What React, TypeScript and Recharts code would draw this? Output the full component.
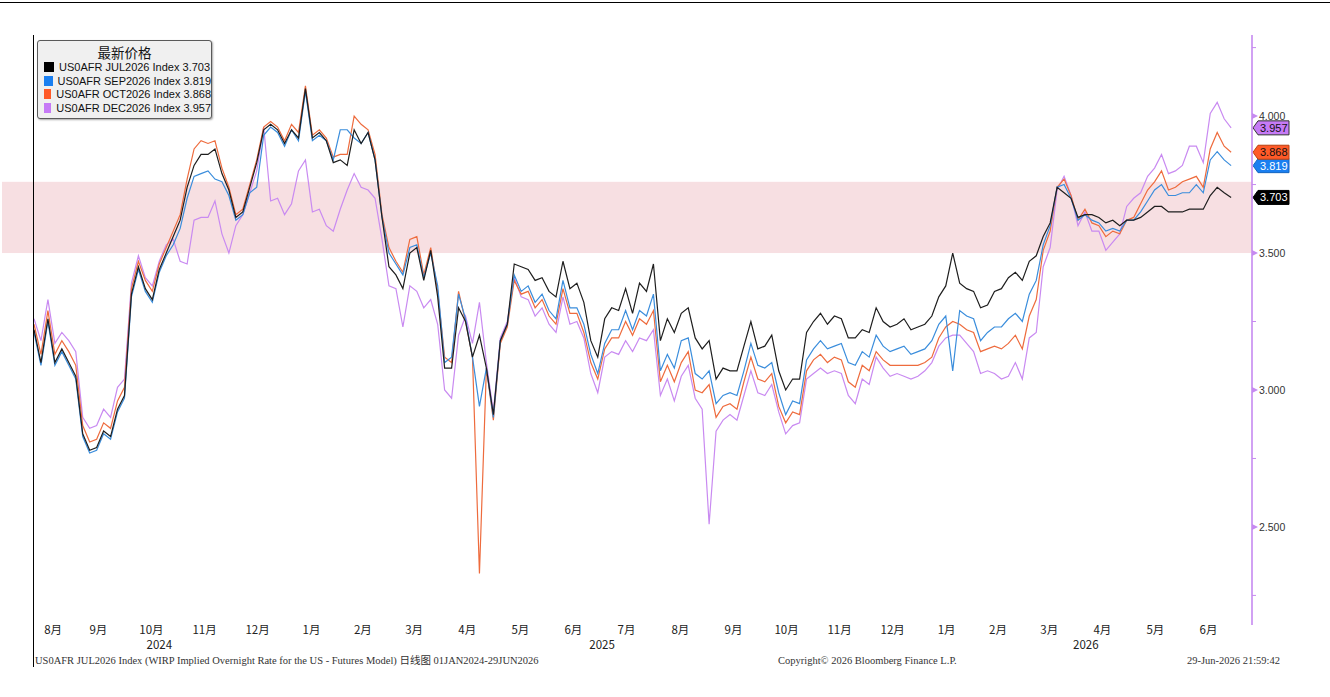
import { LineChart, Line, XAxis, YAxis, ReferenceArea, ReferenceLine, Legend } from 'recharts';

// one sample every 4 calendar days, first sample 10 Aug 2024, last 29 Jun 2026
const START = Date.UTC(2024, 7, 10);
const DAY = 86400000;
const STEP_DAYS = 4;
const X_MIN = Date.UTC(2024, 7, 10);
const X_MAX = Date.UTC(2026, 6, 11);

const jul2026 = [
  3.22, 3.10, 3.26, 3.10, 3.15, 3.10, 3.05, 2.84, 2.78, 2.79,
  2.85, 2.83, 2.93, 2.98, 3.35, 3.45, 3.37, 3.33, 3.44, 3.50,
  3.56, 3.62, 3.74, 3.82, 3.86, 3.86, 3.88, 3.79, 3.73, 3.63,
  3.65, 3.74, 3.83, 3.95, 3.97, 3.95, 3.90, 3.95, 3.92, 4.10,
  3.92, 3.94, 3.91, 3.83, 3.84, 3.82, 3.95, 3.90, 3.94, 3.84,
  3.63, 3.45, 3.42, 3.37, 3.50, 3.52, 3.40, 3.51, 3.34, 3.08,
  3.08, 3.30, 3.25, 3.12, 3.20, 3.08, 2.91, 3.18, 3.24, 3.46,
  3.45, 3.44, 3.40, 3.41, 3.36, 3.34, 3.47, 3.37, 3.39, 3.32,
  3.18, 3.12, 3.26, 3.30, 3.29, 3.37, 3.28, 3.39, 3.36, 3.46,
  3.18, 3.26, 3.21, 3.28, 3.30, 3.19, 3.15, 3.18, 3.04, 3.08,
  3.07, 3.07, 3.16, 3.25, 3.15, 3.16, 3.20, 3.07, 3.00, 3.04,
  3.04, 3.21, 3.25, 3.28, 3.24, 3.27, 3.26, 3.19, 3.19, 3.22,
  3.21, 3.30, 3.25, 3.23, 3.24, 3.26, 3.22, 3.23, 3.24, 3.27,
  3.34, 3.38, 3.50, 3.39, 3.37, 3.36, 3.30, 3.31, 3.36, 3.37,
  3.41, 3.43, 3.40, 3.47, 3.49, 3.56, 3.61, 3.74, 3.72, 3.70,
  3.63, 3.64, 3.64, 3.63, 3.61, 3.62, 3.60, 3.62, 3.62, 3.63,
  3.65, 3.67, 3.67, 3.65, 3.65, 3.65, 3.66, 3.66, 3.66, 3.71,
  3.74, 3.72, 3.703,
];

const sep2026 = [
  3.21, 3.09, 3.25, 3.09, 3.14, 3.09, 3.04, 2.83, 2.77, 2.78,
  2.84, 2.82, 2.92, 2.97, 3.34, 3.44, 3.36, 3.32, 3.43, 3.49,
  3.53, 3.59, 3.70, 3.78, 3.79, 3.80, 3.77, 3.76, 3.71, 3.62,
  3.64, 3.72, 3.74, 3.93, 3.96, 3.94, 3.89, 3.95, 3.91, 4.09,
  3.91, 3.93, 3.91, 3.84, 3.95, 3.95, 3.92, 3.90, 3.94, 3.84,
  3.63, 3.50, 3.46, 3.42, 3.52, 3.53, 3.41, 3.50, 3.38, 3.10,
  3.12, 3.35, 3.26, 3.12, 2.94, 3.08, 2.90, 3.18, 3.24, 3.42,
  3.36, 3.38, 3.32, 3.35, 3.29, 3.26, 3.40, 3.30, 3.30, 3.24,
  3.13, 3.06, 3.17, 3.22, 3.22, 3.29, 3.22, 3.29, 3.27, 3.35,
  3.07, 3.13, 3.08, 3.18, 3.19, 3.06, 3.04, 3.07, 2.95, 2.98,
  2.99, 2.98, 3.07, 3.17, 3.09, 3.08, 3.10, 2.99, 2.91, 2.96,
  2.95, 3.11, 3.15, 3.18, 3.15, 3.16, 3.17, 3.10, 3.09, 3.14,
  3.12, 3.20, 3.16, 3.14, 3.15, 3.16, 3.13, 3.14, 3.15, 3.18,
  3.24, 3.27, 3.07, 3.29, 3.27, 3.26, 3.18, 3.21, 3.23, 3.23,
  3.26, 3.28, 3.25, 3.35, 3.40, 3.53, 3.60, 3.74, 3.75, 3.70,
  3.62, 3.64, 3.62, 3.61, 3.58, 3.59, 3.58, 3.62, 3.62, 3.65,
  3.69, 3.73, 3.75, 3.71, 3.71, 3.72, 3.72, 3.75, 3.72, 3.84,
  3.87, 3.84, 3.819,
];

const oct2026 = [
  3.24, 3.13, 3.29, 3.13, 3.18, 3.14, 3.09, 2.87, 2.81, 2.82,
  2.88, 2.86, 2.96, 3.01, 3.37, 3.47, 3.40, 3.36, 3.46, 3.52,
  3.58, 3.64, 3.77, 3.88, 3.91, 3.90, 3.91, 3.81, 3.74, 3.64,
  3.66, 3.75, 3.84, 3.96, 3.98, 3.96, 3.91, 3.97, 3.94, 4.11,
  3.93, 3.95, 3.92, 3.85, 3.86, 3.86, 4.00, 3.97, 3.95, 3.86,
  3.64, 3.52, 3.47, 3.43, 3.55, 3.56, 3.42, 3.52, 3.36, 3.12,
  3.10, 3.36, 3.25, 3.12, 2.33, 3.08, 2.89, 3.17, 3.23, 3.40,
  3.35, 3.36, 3.30, 3.33, 3.27, 3.24, 3.37, 3.28, 3.28, 3.21,
  3.10, 3.04, 3.15, 3.19, 3.19, 3.25, 3.20, 3.26, 3.24, 3.29,
  3.03, 3.09, 3.03, 3.10, 3.14, 3.00, 2.99, 3.02, 2.90, 2.94,
  2.95, 2.93, 3.03, 3.12, 3.04, 3.03, 3.06, 2.94, 2.88, 2.92,
  2.91, 3.07, 3.11, 3.13, 3.10, 3.12, 3.11, 3.03, 3.01, 3.09,
  3.07, 3.14, 3.11, 3.09, 3.09, 3.09, 3.09, 3.09, 3.10, 3.12,
  3.19, 3.23, 3.25, 3.24, 3.22, 3.21, 3.14, 3.15, 3.16, 3.15,
  3.17, 3.20, 3.15, 3.27, 3.33, 3.51, 3.58, 3.74, 3.77, 3.71,
  3.62, 3.66, 3.61, 3.60, 3.56, 3.58, 3.57, 3.62, 3.63, 3.68,
  3.73, 3.76, 3.80, 3.73, 3.74, 3.76, 3.77, 3.78, 3.74, 3.88,
  3.94, 3.89, 3.868,
];

const dec2026 = [
  3.26, 3.18, 3.33, 3.17, 3.21, 3.18, 3.14, 2.90, 2.86, 2.87,
  2.93, 2.90, 3.01, 3.04, 3.39, 3.49, 3.41, 3.38, 3.47, 3.53,
  3.55, 3.47, 3.46, 3.62, 3.63, 3.63, 3.69, 3.57, 3.50, 3.60,
  3.64, 3.72, 3.80, 3.96, 3.69, 3.70, 3.64, 3.68, 3.80, 3.84,
  3.65, 3.66, 3.60, 3.58, 3.66, 3.73, 3.79, 3.74, 3.73, 3.70,
  3.55, 3.38, 3.37, 3.23, 3.38, 3.36, 3.30, 3.33, 3.24, 3.00,
  2.97, 3.20, 3.27, 3.17, 3.32, 3.10, 2.92, 3.19, 3.25, 3.41,
  3.34, 3.33, 3.27, 3.30, 3.24, 3.21, 3.34, 3.24, 3.25, 3.19,
  3.06, 2.99, 3.12, 3.14, 3.13, 3.18, 3.14, 3.19, 3.18, 3.22,
  2.98, 3.04, 2.96, 3.05, 3.09, 2.97, 2.93, 2.51, 2.85, 2.89,
  2.91, 2.89, 2.98, 3.07, 2.99, 2.98, 3.02, 2.92, 2.84, 2.87,
  2.88, 3.04, 3.06, 3.08, 3.06, 3.07, 3.06, 2.98, 2.95, 3.04,
  3.02, 3.12, 3.08, 3.05, 3.06, 3.05, 3.04, 3.05, 3.07, 3.10,
  3.16, 3.19, 3.20, 3.20, 3.17, 3.14, 3.06, 3.07, 3.06, 3.04,
  3.05, 3.10, 3.04, 3.19, 3.21, 3.45, 3.52, 3.73, 3.78, 3.71,
  3.60, 3.65, 3.58, 3.58, 3.51, 3.54, 3.57, 3.67, 3.70, 3.72,
  3.78, 3.81, 3.86, 3.79, 3.80, 3.82, 3.89, 3.89, 3.83, 4.01,
  4.05, 3.99, 3.957,
];

const seriesKeys = ['jul', 'sep', 'oct', 'dec'];
const seriesNames = [
  'US0AFR JUL2026 Index',
  'US0AFR SEP2026 Index',
  'US0AFR OCT2026 Index',
  'US0AFR DEC2026 Index',
];
const lastValues = [3.703, 3.819, 3.868, 3.957];
const lineColors = ['#1e1e1e', '#3a8ddc', '#ee6b3d', '#c98af1'];
const swatchColors = ['#000000', '#1a7ff0', '#ff5a28', '#c67af6'];
const tagText = ['#ffffff', '#ffffff', '#111111', '#111111'];
const tagStroke = ['#000000', '#1466c0', '#b84010', '#333333'];

const monthTicks = [
  '2024-08', '2024-09', '2024-10', '2024-11', '2024-12',
  '2025-01', '2025-02', '2025-03', '2025-04', '2025-05', '2025-06',
  '2025-07', '2025-08', '2025-09', '2025-10', '2025-11', '2025-12',
  '2026-01', '2026-02', '2026-03', '2026-04', '2026-05', '2026-06',
];
const yearTicks = [2024, 2025, 2026];
const yTicks = [2.25, 2.5, 2.75, 3, 3.25, 3.5, 3.75, 4, 4.25];
const Y_DOMAIN = [2.142, 4.296];
const band = [3.5, 3.76];

const AXIS_PURPLE = '#c68af0';
const UI_FONT = '"Liberation Sans", Arial, sans-serif';
const CJK_FONT = '"Noto Sans CJK SC", "Noto Sans", sans-serif';

const data = jul2026.map((v, i) => ({
  t: START + i * STEP_DAYS * DAY,
  jul: v,
  sep: sep2026[i],
  oct: oct2026[i],
  dec: dec2026[i],
}));

const clampCenter = (a: number, b: number) => (Math.max(a, X_MIN) + Math.min(b, X_MAX)) / 2;

const monthPos = monthTicks.map((s) => {
  const [y, m] = s.split('-').map(Number);
  return clampCenter(Date.UTC(y, m - 1, 1), Date.UTC(y, m, 1));
});
const monthLabels = monthTicks.map((s) => `${Number(s.split('-')[1])}月`);
const yearPos = yearTicks.map((y) => clampCenter(Date.UTC(y, 0, 1), Date.UTC(y + 1, 0, 1)));

const YTick = (props: any) => {
  const { x, y, payload } = props;
  const v = payload.value;
  const major = Math.abs(v * 2 - Math.round(v * 2)) < 1e-6;
  if (!major) {
    return <line x1={x} x2={x + 4} y1={y} y2={y} stroke={AXIS_PURPLE} strokeWidth={1} />;
  }
  return (
    <g>
      <path d={`M${x},${y - 3} L${x + 6},${y} L${x},${y + 3} Z`} fill={AXIS_PURPLE} />
      <text x={x + 7} y={y} dy="0.35em" fontSize={10.5} fill="#333" fontFamily={UI_FONT}>
        {v.toFixed(3)}
      </text>
    </g>
  );
};

const makeTag = (i: number) => (props: any) => {
  const { viewBox } = props;
  const x0 = viewBox.x + viewBox.width;
  const y = viewBox.y;
  return (
    <g>
      <path
        d={`M${x0 + 1},${y} L${x0 + 6},${y - 7} L${x0 + 37},${y - 7} L${x0 + 37},${y + 7} L${x0 + 6},${y + 7} Z`}
        fill={swatchColors[i]}
        stroke={tagStroke[i]}
        strokeWidth={1}
      />
      <text x={x0 + 8} y={y} dy="0.36em" fontSize={11} fill={tagText[i]} fontFamily={UI_FONT}>
        {lastValues[i].toFixed(3)}
      </text>
    </g>
  );
};

const LegendBox = () => (
  <div
    style={{
      width: 175,
      height: 79,
      boxSizing: 'border-box',
      border: '1px solid #5a5a5a',
      borderRadius: 3,
      background: '#f0f0f0',
      boxShadow: '1px 1px 2px rgba(0,0,0,0.35)',
      padding: '3px 0 0 6px',
      color: '#111',
    }}
  >
    <div style={{ textAlign: 'center', fontSize: 13.5, lineHeight: '16px', fontFamily: CJK_FONT, marginLeft: -6 }}>
      最新价格
    </div>
    {seriesNames.map((n, i) => (
      <div key={n} style={{ display: 'flex', alignItems: 'center', height: 13.7, fontSize: 11, fontFamily: UI_FONT, whiteSpace: 'nowrap' }}>
        <span style={{ display: 'inline-block', width: 10, height: 10, background: swatchColors[i], marginRight: 5 }} />
        {n} {lastValues[i].toFixed(3)}
      </div>
    ))}
  </div>
);

const footStyle: any = {
  position: 'absolute',
  top: 655,
  fontFamily: '"Liberation Serif", "Noto Sans CJK SC", serif',
  fontSize: 10.5,
  lineHeight: '12px',
  color: '#333',
  whiteSpace: 'nowrap',
};

export default function App() {
  const drawOrder = [3, 2, 1, 0];
  return (
    <div style={{ position: 'absolute', left: 0, top: 0, width: 1330, height: 697, background: '#fff', overflow: 'hidden' }}>
      <LineChart width={1330} height={697} data={data} margin={{ top: 35, right: 0, left: 34, bottom: 42 }}>
        <XAxis
          xAxisId="m"
          dataKey="t"
          type="number"
          domain={[X_MIN, X_MAX]}
          allowDataOverflow
          ticks={monthPos}
          interval={0}
          tickFormatter={(_v: number, i: number) => monthLabels[i]}
          axisLine={false}
          tickLine={false}
          tickSize={0}
          tickMargin={1}
          height={16}
          tick={{ fontSize: 11.5, fill: '#222', fontFamily: CJK_FONT }}
        />
        <XAxis
          xAxisId="y"
          dataKey="t"
          type="number"
          domain={[X_MIN, X_MAX]}
          allowDataOverflow
          ticks={yearPos}
          interval={0}
          tickFormatter={(_v: number, i: number) => String(yearTicks[i])}
          axisLine={false}
          tickLine={false}
          tickSize={0}
          tickMargin={0}
          height={14}
          tick={{ fontSize: 11.5, fill: '#222', fontFamily: CJK_FONT }}
        />
        <YAxis
          yAxisId="v"
          orientation="right"
          type="number"
          domain={Y_DOMAIN}
          allowDataOverflow
          ticks={yTicks}
          interval={0}
          width={78}
          axisLine={{ stroke: AXIS_PURPLE, strokeWidth: 1.6 }}
          tickLine={false}
          tickSize={0}
          tickMargin={0}
          tick={<YTick />}
        />
        <ReferenceArea
          xAxisId="m"
          yAxisId="v"
          y1={band[0]}
          y2={band[1]}
          fill="#f7dfe2"
          fillOpacity={1}
          stroke="none"
          shape={(p: any) => <rect x={2} y={p.y} width={p.x + p.width - 2} height={p.height} fill="#f7dfe2" />}
        />
        {drawOrder.map((i) => (
          <Line
            key={seriesKeys[i]}
            xAxisId="m"
            yAxisId="v"
            type="linear"
            dataKey={seriesKeys[i]}
            name={seriesNames[i]}
            stroke={lineColors[i]}
            strokeWidth={1.2}
            dot={false}
            activeDot={false}
            isAnimationActive={false}
          />
        ))}
        {[0, 1, 2, 3].map((i) => (
          <ReferenceLine
            key={`tag-${i}`}
            xAxisId="m"
            yAxisId="v"
            y={lastValues[i]}
            stroke="none"
            label={makeTag(i)}
          />
        ))}
        <Legend
          layout="vertical"
          align="center"
          verticalAlign="middle"
          wrapperStyle={{ left: 37, top: 40, width: 175 }}
          content={() => <LegendBox />}
        />
      </LineChart>
      <div style={{ position: 'absolute', left: 0, top: 2, width: 1330, height: 1, background: '#000' }} />
      <div style={{ position: 'absolute', left: 33, top: 35, width: 1, height: 632, background: '#000' }} />
      <div style={{ ...footStyle, left: 35 }}>
        US0AFR JUL2026 Index (WIRP Implied Overnight Rate for the US - Futures Model) 日线图 01JAN2024-29JUN2026
      </div>
      <div style={{ ...footStyle, left: 778 }}>Copyright© 2026 Bloomberg Finance L.P.</div>
      <div style={{ ...footStyle, left: 1187 }}>29-Jun-2026 21:59:42</div>
    </div>
  );
}
